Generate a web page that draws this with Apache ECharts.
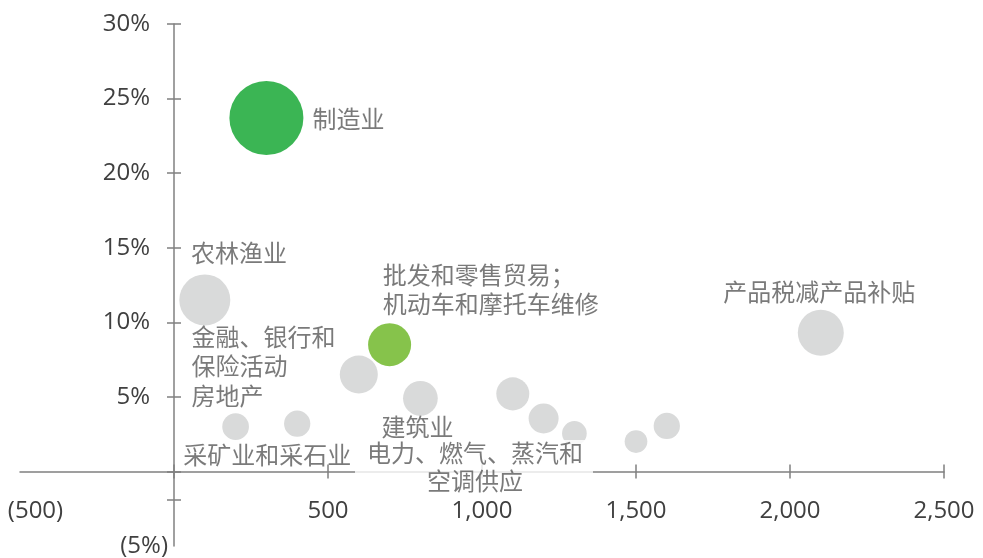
<!DOCTYPE html>
<html>
<head>
<meta charset="utf-8">
<script src="https://cdn.jsdelivr.net/npm/echarts@6/dist/echarts.min.js"></script>
<style>
html,body{margin:0;padding:0;background:#fff;}
#chart{width:983px;height:558px;}
</style>
</head>
<body>
<div id="chart"></div>
<script>
// ---------------- data ----------------
// bubbles: x value, y value (%), bubble size value, colour group
const bubbleX    = [300, 100, 700, 2100, 600, 800, 1100, 1200, 1300, 1500, 1600, 200, 400];
const bubbleY    = [23.7, 11.5, 8.5, 9.3, 6.5, 4.9, 5.2, 3.55, 2.55, 2.0, 3.05, 3.0, 3.2];
const bubbleSize = [100, 47.5, 33.8, 38.6, 26.4, 22, 19.9, 16.4, 11.1, 9.4, 12.6, 13, 12.6];
const bubbleGroup = ['dark', 'grey', 'light', 'grey', 'grey', 'grey', 'grey', 'grey', 'grey', 'grey', 'grey', 'grey', 'grey'];

// sector names shown as text annotations
const sectorNames = [
  '制造业',
  '农林渔业',
  '批发和零售贸易；\n机动车和摩托车维修',
  '产品税减产品补贴',
  '金融、银行和\n保险活动',
  '房地产',
  '采矿业和采石业',
  '建筑业',
  '电力、燃气、蒸汽和\n空调供应'
];

// axis ticks
const xMin = -500, xMax = 2500, xStep = 500;
const yMin = -5, yMax = 30, yStep = 5;

// ---------------- layout (annotation anchors in data units, styles) ----------------
const annotX     = [450, 55, 678, 2095, 57, 57, 30, 674, 974];
const annotY     = [23.5, 14.5, 12.05, 11.9, 7.9, 4.92, 0.96, 2.86, 0.13];
const annotAlign = ['left', 'left', 'left', 'center', 'left', 'left', 'left', 'left', 'center'];
const annotBoxed = [false, false, false, false, false, false, false, false, true];

const colors = { dark: '#3bb554', light: '#86c34b', grey: '#d9dada' };
const FONT = "'Open Sans', 'Noto Sans CJK SC', sans-serif";
const axisColor = '#808080';
const tickColor = '#404040';
const textColor = '#595959';

const bubbleData = bubbleX.map((x, i) => ({
  value: [x, bubbleY[i], bubbleSize[i]],
  itemStyle: { color: colors[bubbleGroup[i]], opacity: 1 }
}));

const annotData = sectorNames.map((n, i) => {
  const lab = { align: annotAlign[i] };
  if (annotBoxed[i]) {
    lab.backgroundColor = '#ffffff';
    lab.padding = [2, 10, 1, 12];
    lab.lineHeight = 28;
  }
  return { name: n, value: [annotX[i], annotY[i]], label: lab };
});

const xTickVals = [];
for (let v = 0; v <= xMax; v += xStep) xTickVals.push(v);
const yTickVals = [-1.9];
for (let v = 0; v <= yMax; v += yStep) yTickVals.push(v);

function fmtX(v) {
  if (v === 0) return '';
  if (v < 0) return '{neg|(' + Math.abs(v).toLocaleString('en-US') + ')}';
  return '{pos|' + v.toLocaleString('en-US') + '}';
}
function fmtY(v) {
  if (v === 0) return '';
  if (v < 0) return '{neg|(' + Math.abs(v) + '%)}';
  return '{pos|' + v + '%}';
}
const tokenBase = { fontSize: 24, fontFamily: FONT, color: tickColor };
const lineStyle = { color: axisColor, width: 1.5 };

function lineAxis(inside, showLine) {
  return {
    type: 'value', min: 0, max: 0, interval: 0, position: 'bottom',
    axisLine: { show: showLine, onZero: true, onZeroAxisIndex: 0, lineStyle: lineStyle },
    axisTick: { show: true, inside: inside, length: 7, lineStyle: lineStyle },
    axisLabel: { show: false },
    splitLine: { show: false }
  };
}

const x1 = lineAxis(false, true), x2 = lineAxis(true, false);
[x1, x2].forEach(a => { a.min = xMin; a.max = xMax; a.interval = xStep; a.position = 'bottom'; a.axisTick.customValues = xTickVals; });
const y1 = lineAxis(false, true), y2 = lineAxis(true, false);
[y1, y2].forEach(a => { a.min = yMin; a.max = yMax; a.interval = yStep; a.position = 'left'; a.axisTick.customValues = yTickVals; });

const chart = echarts.init(document.getElementById('chart'), null, { renderer: 'canvas' });
chart.setOption({
  animation: false,
  backgroundColor: '#ffffff',
  grid: { left: 20, right: 39, top: 24, bottom: 12, containLabel: false, outerBoundsMode: 'none' },
  xAxis: [
    {
      // label-only axis at the bottom edge of the plot, labels drawn inside
      type: 'value', min: xMin, max: xMax, interval: xStep, position: 'bottom',
      axisLine: { show: false, onZero: false },
      axisTick: { show: false },
      axisLabel: {
        inside: true, margin: 23, fontSize: 24, fontFamily: FONT, color: tickColor, formatter: fmtX,
        rich: { pos: Object.assign({}, tokenBase), neg: Object.assign({ padding: [0, 0, 0, 31] }, tokenBase) }
      },
      splitLine: { show: false }
    },
    x1, x2
  ],
  yAxis: [
    {
      type: 'value', min: yMin, max: yMax, interval: yStep, position: 'left',
      axisLine: { show: false, onZero: false },
      axisTick: { show: false },
      axisLabel: {
        inside: true, align: 'right', margin: 148, fontSize: 24, fontFamily: FONT, color: tickColor, formatter: fmtY,
        rich: { pos: Object.assign({ padding: [0, 18, 0, 0] }, tokenBase), neg: Object.assign({}, tokenBase) }
      },
      splitLine: { show: false }
    },
    y1, y2
  ],
  series: [
    {
      type: 'scatter', xAxisIndex: 0, yAxisIndex: 0, z: 2,
      data: bubbleData,
      symbol: 'circle',
      symbolSize: (val) => 7.4 * Math.sqrt(val[2]),
      emphasis: { disabled: true },
      silent: true
    },
    {
      type: 'scatter', xAxisIndex: 0, yAxisIndex: 0, z: 5,
      data: annotData,
      symbol: 'circle', symbolSize: 0,
      itemStyle: { color: 'rgba(0,0,0,0)' },
      label: {
        show: true, position: [0, 0], verticalAlign: 'middle', formatter: '{b}',
        fontSize: 24, lineHeight: 29, fontFamily: FONT, color: textColor
      },
      emphasis: { disabled: true },
      silent: true
    }
  ]
});
</script>
</body>
</html>
